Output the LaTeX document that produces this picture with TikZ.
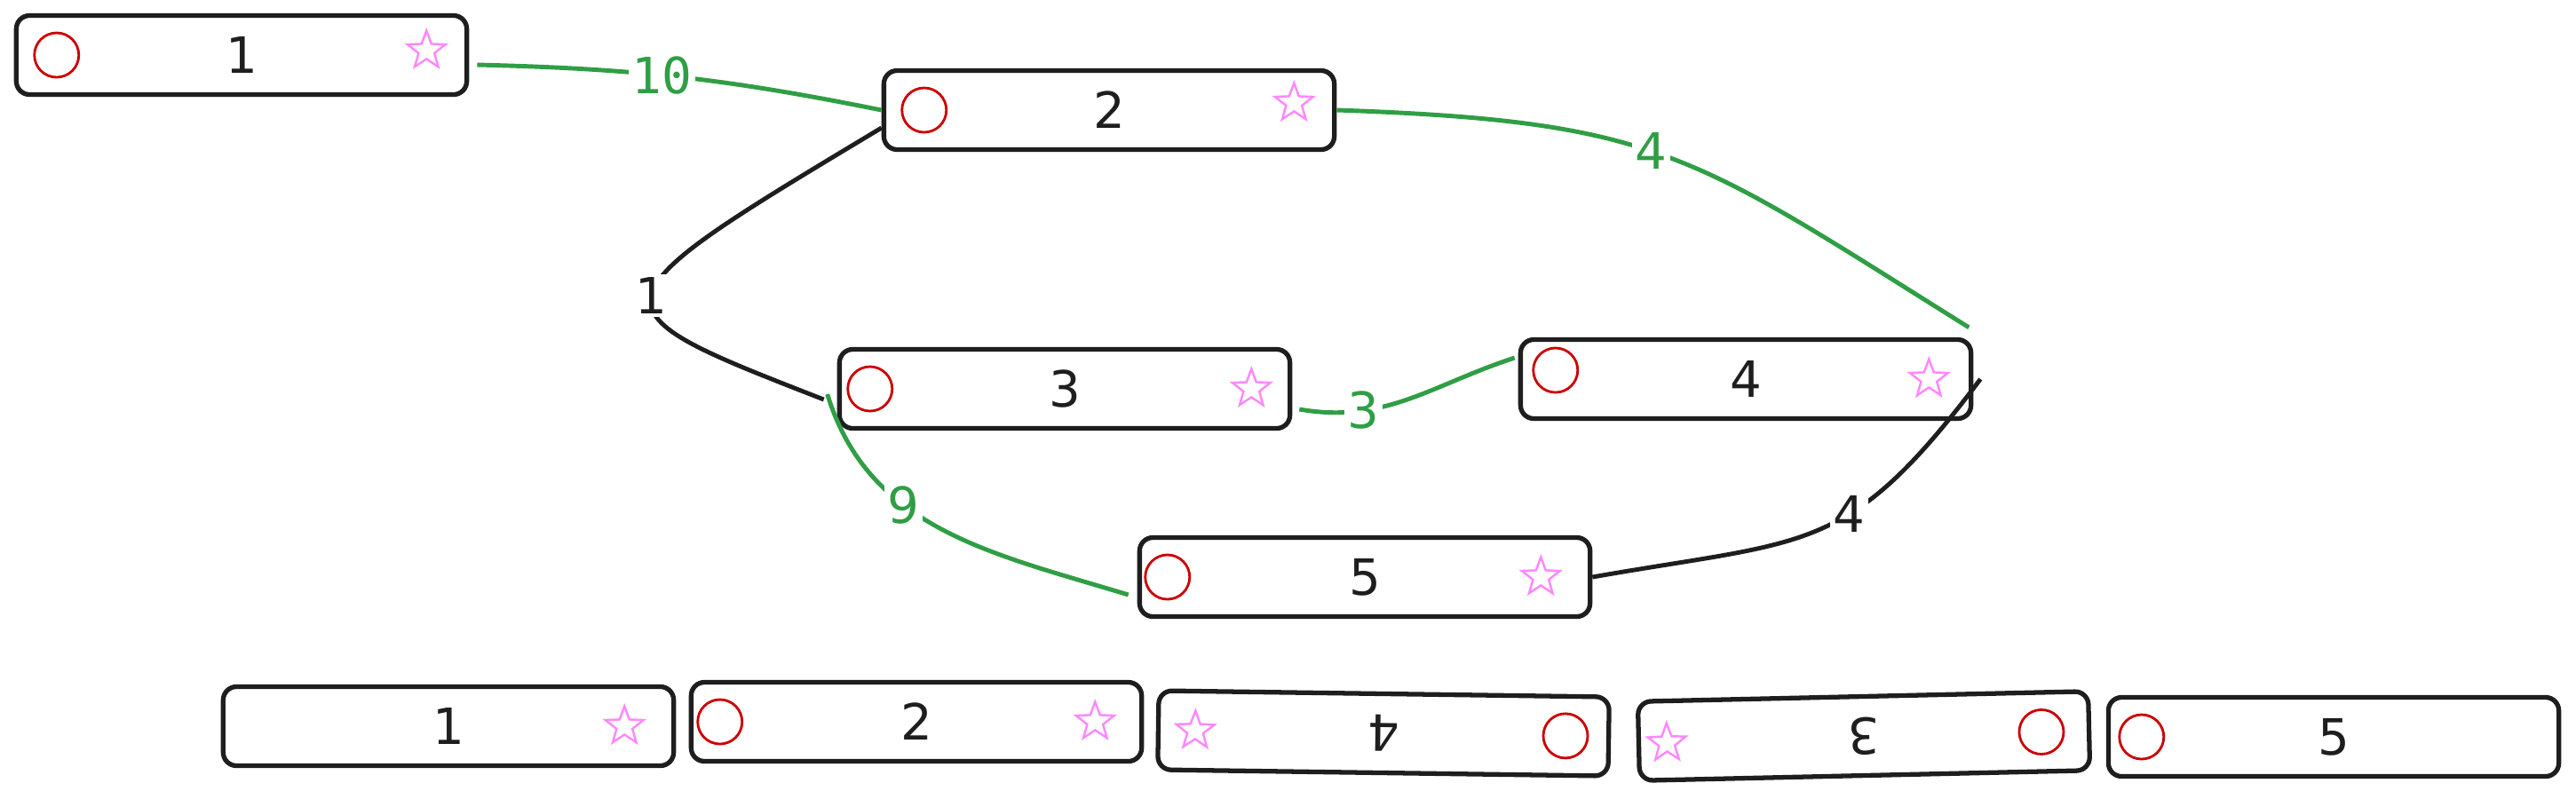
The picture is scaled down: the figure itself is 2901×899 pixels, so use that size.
\documentclass[tikz,border=0pt]{standalone}
\usepackage{fontspec}
\setmainfont{DejaVu Sans}
\newfontfamily\codefont{DejaVu Sans Mono}
\usetikzlibrary{shapes.geometric}
\definecolor{ink}{HTML}{1E1E1E}
\definecolor{exgreen}{HTML}{2F9E44}
\definecolor{exred}{HTML}{CC0000}
\definecolor{expink}{HTML}{FF88FF}
\tikzset{
  box/.style={draw=ink,line width=1.5pt,rounded corners=0.15cm,
    minimum width=5.07cm,minimum height=0.89cm,inner sep=0pt,
    text=ink,font=\fontsize{16}{18}\selectfont},
  ring/.style={circle,draw=exred,line width=0.8pt,minimum size=0.5cm,inner sep=0pt},
  starmark/.style={star,star points=5,star point ratio=2.4,draw=expink,
    line width=0.7pt,minimum size=0.45cm,inner sep=0pt},
  link/.style={draw=ink,line width=1.4pt},
  glink/.style={draw=exgreen,line width=1.4pt},
  wt/.style={fill=white,inner sep=1pt,font=\fontsize{16}{18}\selectfont}}

\begin{document}
\begin{tikzpicture}[x=0.01cm,y=-0.01cm]
    \useasboundingbox (0,0) rectangle (2901,899);
    % graph
    \node[box] (n1) at (272,62) {1};
    \node[ring] at ([xshift=4.8mm]n1.west) {};
    \node[starmark] at ([xshift=-4.8mm,yshift=0.5mm]n1.east) {};
    \node[box] (n2) at (1249,124) {2};
    \node[ring] at ([xshift=4.8mm]n2.west) {};
    \node[starmark] at ([xshift=-4.8mm,yshift=0.8mm]n2.east) {};
    \node[box] (n3) at (1199,438) {3};
    \node[ring] at ([xshift=3.7mm]n3.west) {};
    \node[starmark] at ([xshift=-4.6mm]n3.east) {};
    \node[box] (n4) at (1966,427) {4};
    \node[ring] at ([xshift=4.2mm,yshift=1mm]n4.west) {};
    \node[starmark] at ([xshift=-5mm]n4.east) {};
    \node[box] (n5) at (1537,650) {5};
    \node[ring] at ([xshift=3.4mm]n5.west) {};
    \node[starmark] at ([xshift=-5.8mm]n5.east) {};
    % edges
    \draw[glink] ([shift={(9,11)}]n1.east) to[bend left=5]
    node[wt,pos=0.45,text=exgreen,font=\codefont\fontsize{16}{18}\selectfont] {10} (n2.west);
    \draw[link] ([yshift=-2mm]n2.west) .. controls (658,345) ..
    node[wt,text=ink] {1} ([shift={(-15,12)}]n3.west);
    \draw[glink] (n2.east) to[out=-2,in=148,looseness=1.25]
    node[wt,pos=0.46,text=exgreen] {4} ([shift={(-5,-11)}]n4.north east);
    \draw[glink] ([shift={(8,23)}]n3.east) to[out=-10,in=198]
    node[wt,pos=0.28,text=exgreen] {3} ([shift={(-4,-24)}]n4.west);
    \draw[glink] ([shift={(-11,6)}]n3.west) to[out=-73,in=163]
    node[wt,pos=0.37,text=exgreen] {9} ([shift={(-10,20)}]n5.west);
    \draw[link] (n5.east) to[out=10,in=233,looseness=1.3]
    node[wt,pos=0.6,text=ink] {4} ([xshift=0.8mm]n4.east);
    % order
    \node[box] (m1) at (505,818) {1};
    \node[starmark] at ([xshift=-5.8mm]m1.east) {};
    \node[box] (m2) at (1032,813) {2};
    \node[ring] at ([xshift=3.5mm]m2.west) {};
    \node[starmark] at ([xshift=-5.5mm]m2.east) {};
    \begin{scope}[shift={(1558,826)},rotate=179.2,transform shape]
      \node[box] (m3) at (0,0) {4};
      \node[ring] at (-205,0) {};
      \node[starmark,rotate=180] at (212,0) {};
    \end{scope}
    \begin{scope}[shift={(2099,829)},rotate=181.3,transform shape]
      \node[box] (m4) at (0,0) {3};
      \node[ring] at (-200,0) {};
      \node[starmark,rotate=180] at (222,-3) {};
    \end{scope}
    \node[box] (m5) at (2628,830) {5};
    \node[ring] at ([xshift=4mm]m5.west) {};
\end{tikzpicture}
\end{document}
